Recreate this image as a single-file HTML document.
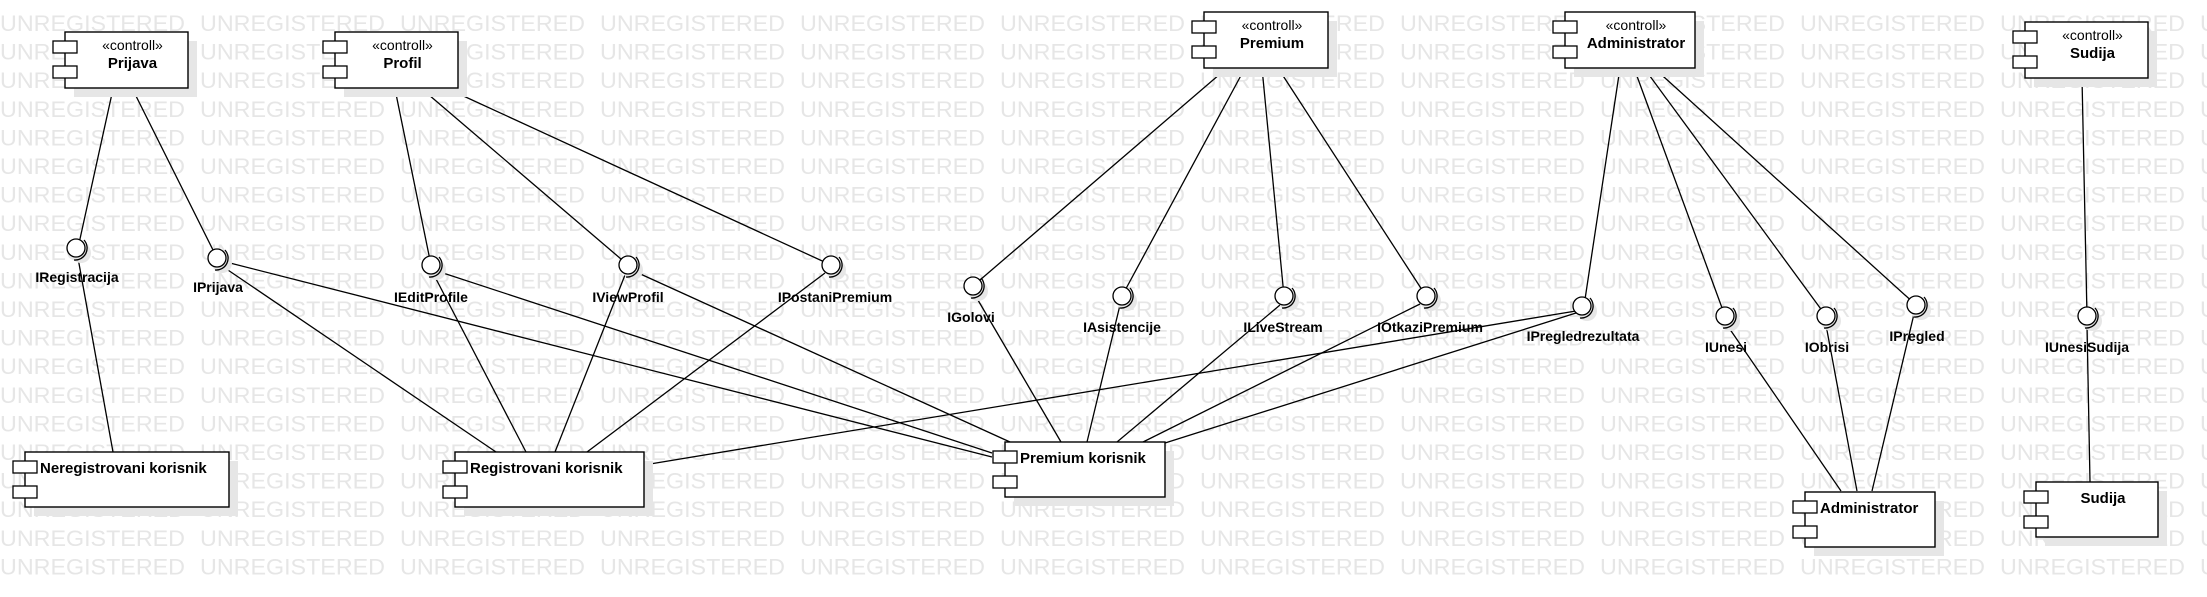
<!DOCTYPE html>
<html><head><meta charset="utf-8"><style>
html,body{margin:0;padding:0;background:#fff;}
svg{display:block;}
.wm{font-family:"Liberation Sans",sans-serif;font-size:22px;fill:#e6e6e6;}
.st{font-family:"Liberation Sans",sans-serif;font-size:14px;fill:#000;}
.nm{font-family:"Liberation Sans",sans-serif;font-size:15px;font-weight:bold;fill:#000;}
.lb{font-family:"Liberation Sans",sans-serif;font-size:14px;font-weight:bold;fill:#000;}
</style></head><body>
<svg width="2207" height="597" viewBox="0 0 2207 597" xmlns="http://www.w3.org/2000/svg">
<g id="wm"></g>
<script>
(function(){var g=document.getElementById('wm');var ns='http://www.w3.org/2000/svg';
for(var r=0;r<20;r++){var y=31+r*28.6;for(var c=0;c<12;c++){var t=document.createElementNS(ns,'text');t.setAttribute('class','wm');t.setAttribute('x',c*200);t.setAttribute('y',y);t.setAttribute('textLength','185');t.setAttribute('lengthAdjust','spacingAndGlyphs');t.textContent='UNREGISTERED';g.appendChild(t);}}})();
</script>
<g stroke="#000" stroke-width="1.3" fill="none">
<line x1="113" y1="89" x2="78" y2="248"/>
<line x1="132" y1="88" x2="217" y2="258"/>
<line x1="78" y1="258" x2="113" y2="452"/>
<line x1="222" y1="266" x2="496" y2="452"/>
<line x1="226" y1="262" x2="992" y2="457"/>
<line x1="395" y1="89" x2="431" y2="265"/>
<line x1="422" y1="89" x2="628" y2="265"/>
<line x1="446" y1="88" x2="831" y2="265"/>
<line x1="434" y1="275" x2="526" y2="452"/>
<line x1="440" y1="272" x2="992" y2="453"/>
<line x1="625" y1="275" x2="555" y2="452"/>
<line x1="636" y1="272" x2="1010" y2="442"/>
<line x1="825" y1="273" x2="587" y2="452"/>
<line x1="1227" y1="68" x2="973" y2="286"/>
<line x1="1245" y1="68" x2="1122" y2="296"/>
<line x1="1262" y1="68" x2="1284" y2="296"/>
<line x1="1278" y1="68" x2="1426" y2="296"/>
<line x1="975" y1="295" x2="1061" y2="442"/>
<line x1="1120" y1="305" x2="1087" y2="442"/>
<line x1="1280" y1="305" x2="1117" y2="442"/>
<line x1="1420" y1="304" x2="1143" y2="442"/>
<line x1="1620" y1="68" x2="1584" y2="306"/>
<line x1="1634" y1="68" x2="1725" y2="316"/>
<line x1="1644" y1="68" x2="1826" y2="316"/>
<line x1="1654" y1="68" x2="1916" y2="305"/>
<line x1="1576" y1="311" x2="644" y2="465"/>
<line x1="1576" y1="313" x2="1165" y2="443"/>
<line x1="1727" y1="325" x2="1841" y2="491"/>
<line x1="1826" y1="325" x2="1857" y2="491"/>
<line x1="1914" y1="314" x2="1872" y2="491"/>
<line x1="2082" y1="78" x2="2087" y2="316"/>
<line x1="2087" y1="325" x2="2090" y2="482"/>
</g>
<g id="ifs"></g>
<script>
(function(){var ns='http://www.w3.org/2000/svg';var g=document.getElementById('ifs');
var L=[[76,248,'IRegistracija',77,282],[217,258,'IPrijava',218,292],[431,265,'IEditProfile',431,302],[628,265,'IViewProfil',628,302],[831,265,'IPostaniPremium',835,302],[973,286,'IGolovi',971,322],[1122,296,'IAsistencije',1122,332],[1284,296,'ILiveStream',1283,332],[1426,296,'IOtkaziPremium',1430,332],[1582,306,'IPregledrezultata',1583,341],[1725,316,'IUnesi',1726,352],[1826,316,'IObrisi',1827,352],[1916,305,'IPregled',1917,341],[2087,316,'IUnesiSudija',2087,352]];
L.forEach(function(a){var x=a[0],y=a[1];
var s=document.createElementNS(ns,'circle');s.setAttribute('cx',x+5);s.setAttribute('cy',y+5);s.setAttribute('r',10);s.setAttribute('fill','#e6e6e6');g.appendChild(s);
var c=document.createElementNS(ns,'circle');c.setAttribute('cx',x);c.setAttribute('cy',y);c.setAttribute('r',9);c.setAttribute('fill','#fff');c.setAttribute('stroke','#000');c.setAttribute('stroke-width','1.3');g.appendChild(c);
var p=document.createElementNS(ns,'path');p.setAttribute('d','M'+(x+8)+' '+(y-8)+' A12 12 0 0 1 '+(x-2)+' '+(y+12));p.setAttribute('fill','none');p.setAttribute('stroke','#000');p.setAttribute('stroke-width','1.3');g.appendChild(p);
var t=document.createElementNS(ns,'text');t.setAttribute('class','lb');t.setAttribute('x',a[3]);t.setAttribute('y',a[4]);t.setAttribute('text-anchor','middle');t.textContent=a[2];g.appendChild(t);});})();
</script>
<g id="cmp"></g>
<script>
(function(){var ns='http://www.w3.org/2000/svg';var g=document.getElementById('cmp');
function el(n,at,txt){var e=document.createElementNS(ns,n);for(var k in at)e.setAttribute(k,at[k]);if(txt)e.textContent=txt;g.appendChild(e);return e;}
var C=[[65,32,188,88,'Prijava',1],[335,32,458,88,'Profil',1],[1204,12,1328,68,'Premium',1],[1565,12,1695,68,'Administrator',1],[2025,22,2148,78,'Sudija',1],
[25,452,229,507,'Neregistrovani korisnik',0],[455,452,644,507,'Registrovani korisnik',0],[1005,442,1165,497,'Premium korisnik',0],[1805,492,1935,547,'Administrator',0],[2036,482,2158,537,'Sudija',0]];
C.forEach(function(a){var x1=a[0],y1=a[1],x2=a[2],y2=a[3],w=x2-x1,h=y2-y1;
el('rect',{x:x1+9,y:y1+9,width:w,height:h,fill:'#e6e6e6'});
el('rect',{x:x1,y:y1,width:w,height:h,fill:'#fff',stroke:'#000','stroke-width':1.4});
el('rect',{x:x1-12,y:y1+9,width:24,height:12,fill:'#fff',stroke:'#000','stroke-width':1.3});
el('rect',{x:x1-12,y:y1+34,width:24,height:12,fill:'#fff',stroke:'#000','stroke-width':1.3});
if(a[5]){var cx=(x1+12+x2)/2;el('text',{x:cx,y:y1+18,'class':'st','text-anchor':'middle'},'\u00abcontroll\u00bb');el('text',{x:cx,y:y1+36,'class':'nm','text-anchor':'middle'},a[4]);}
else{var tx=a[4]=='Sudija'?(x1+12+x2)/2:x1+15;el('text',{x:tx,y:y1+21,'class':'nm','text-anchor':a[4]=='Sudija'?'middle':'start'},a[4]);}
});})();
</script>
</svg>
</body></html>
